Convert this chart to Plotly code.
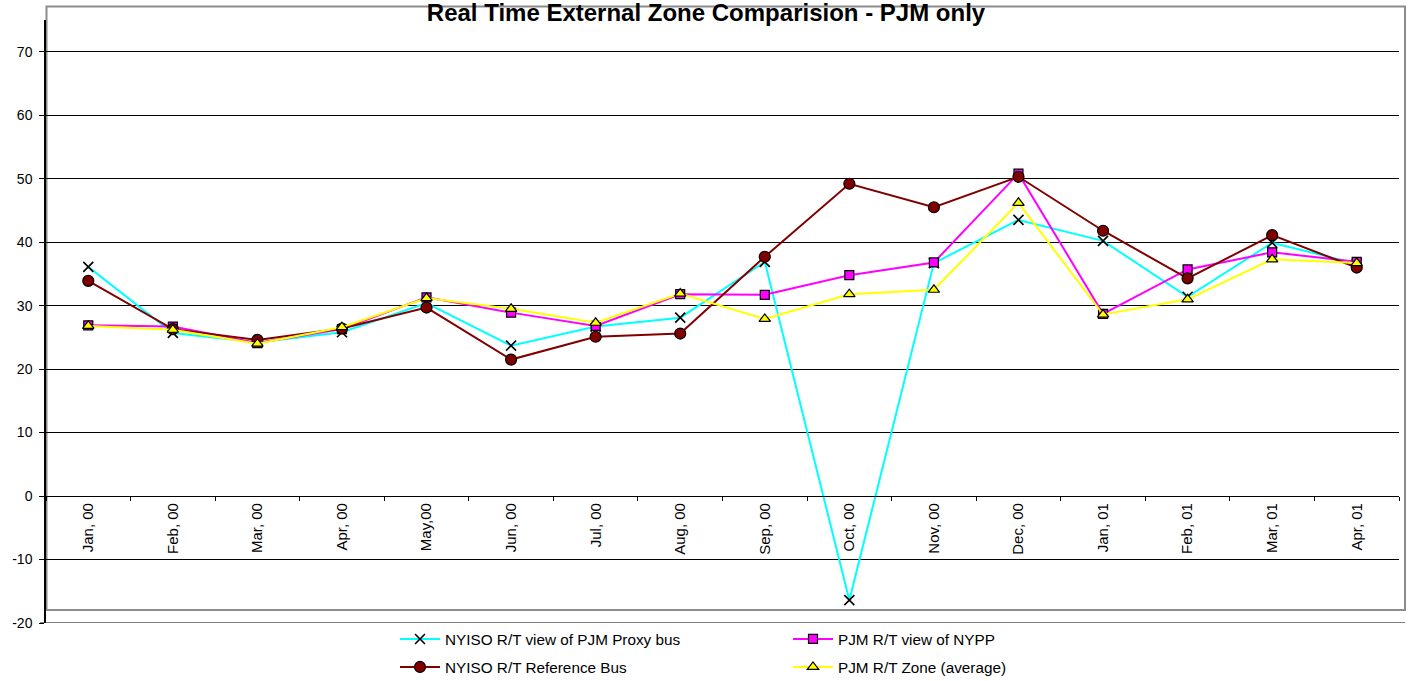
import plotly.graph_objects as go

months = ["Jan, 00", "Feb, 00", "Mar, 00", "Apr, 00", "May,00", "Jun, 00", "Jul, 00", "Aug, 00",
          "Sep, 00", "Oct, 00", "Nov, 00", "Dec, 00", "Jan, 01", "Feb, 01", "Mar, 01", "Apr, 01"]

nyiso_proxy = [36.1, 25.7, 24.2, 25.8, 30.4, 23.7, 26.7, 28.1, 36.9, -16.4, 36.7, 43.5, 40.2, 31.4, 39.9, 36.6]
pjm_nypp    = [26.9, 26.7, 24.1, 26.3, 31.3, 28.9, 26.8, 31.8, 31.7, 34.8, 36.8, 50.8, 28.7, 35.7, 38.4, 36.9]
nyiso_ref   = [33.9, 26.3, 24.6, 26.4, 29.7, 21.5, 25.1, 25.6, 37.7, 49.2, 45.5, 50.3, 41.8, 34.3, 41.1, 36.0]
pjm_zone    = [26.8, 26.2, 24.0, 26.6, 31.2, 29.5, 27.3, 31.9, 27.9, 31.8, 32.5, 46.2, 28.6, 31.0, 37.3, 36.7]

y_tick_vals = [-20, -10, 0, 10, 20, 30, 40, 50, 60, 70]
y_tick_text = ["-20", "-10", "0", "10", "20", "30", "40", "50", "60", "70"]

FONT = "Arial, 'Liberation Sans', sans-serif"
W, H = 1410, 681
L, R, T, B = 46, 11, 20, 58
PW, PH = W - L - R, H - T - B
YMIN, YMAX = -20, 75


def px_x(p):
    return (p - L) / PW


def px_y(p):
    return (H - B - p) / PH


fig = go.Figure()

series = [
    ("NYISO R/T view of PJM Proxy bus", nyiso_proxy, "#00FFFF",
     dict(symbol="x-thin", size=10, color="black", line=dict(color="black", width=1.6)), "legend"),
    ("PJM R/T view of NYPP", pjm_nypp, "#FF00FF",
     dict(symbol="square", size=9, color="#FF00FF", line=dict(color="black", width=1.2)), "legend2"),
    ("NYISO R/T Reference Bus", nyiso_ref, "#800000",
     dict(symbol="circle", size=11, color="#800000", line=dict(color="black", width=1.2)), "legend3"),
    ("PJM R/T Zone (average)", pjm_zone, "#FFFF00",
     dict(symbol="triangle-up", size=10, color="#FFFF00", line=dict(color="black", width=1.2)), "legend4"),
]

for name, vals, col, mk, lg in series:
    fig.add_trace(go.Scatter(
        x=months, y=vals, name=name, mode="lines+markers",
        line=dict(color=col, width=2), marker=mk, legend=lg,
        cliponaxis=False,
    ))

leg_common = dict(orientation="v", bgcolor="rgba(0,0,0,0)", borderwidth=0,
                  font=dict(family=FONT, size=15.3, color="black"),
                  xanchor="left", yanchor="middle", itemwidth=40)

fig.update_layout(
    width=W, height=H,
    margin=dict(l=L, r=R, t=T, b=B, autoexpand=False),
    paper_bgcolor="white", plot_bgcolor="white",
    title=dict(text="<b>Real Time External Zone Comparision - PJM only</b>",
               x=0.5007, xref="container", xanchor="center",
               y=1 - 13 / H, yref="container", yanchor="middle",
               font=dict(family=FONT, size=24, color="black")),
    legend=dict(x=px_x(395), y=px_y(639), **leg_common),
    legend2=dict(x=px_x(788), y=px_y(639), **leg_common),
    legend3=dict(x=px_x(395), y=px_y(667), **leg_common),
    legend4=dict(x=px_x(788), y=px_y(667), **leg_common),
    xaxis=dict(
        type="category", categoryorder="array", categoryarray=months,
        range=[-0.5, len(months) - 0.5],
        anchor="free", position=(0 - YMIN) / (YMAX - YMIN),
        showline=True, linecolor="black", linewidth=1,
        ticks="outside", tickson="boundaries", ticklen=4, tickcolor="black",
        tickangle=-90, showgrid=False, zeroline=False,
        tickfont=dict(family=FONT, size=15, color="black"),
    ),
    yaxis=dict(
        range=[YMIN, YMAX], tickmode="array", tickvals=y_tick_vals, ticktext=y_tick_text,
        showline=True, linecolor="black", linewidth=1.5,
        ticks="outside", ticklen=5, tickcolor="black",
        showgrid=True, gridcolor="black", gridwidth=1,
        zeroline=False, ticklabelstandoff=4,
        tickfont=dict(family=FONT, size=14, color="black"),
    ),
    showlegend=True,
)

# gray plot-area border as in the original Excel chart
fig.add_shape(type="rect", xref="paper", yref="paper",
              x0=px_x(46.5), x1=px_x(1405), y0=px_y(610), y1=px_y(6.5),
              line=dict(color="#8c8c8c", width=2), layer="below")
# bottom (-20) gridline, which runs across the full chart width in the original
fig.add_shape(type="line", xref="paper", yref="y",
              x0=px_x(40), x1=px_x(1405), y0=YMIN, y1=YMIN,
              line=dict(color="black", width=1.2), layer="above")

fig.write_html("out.html", config={"displayModeBar": False},
               post_script="document.body.style.margin='0';document.body.style.overflow='hidden';")
